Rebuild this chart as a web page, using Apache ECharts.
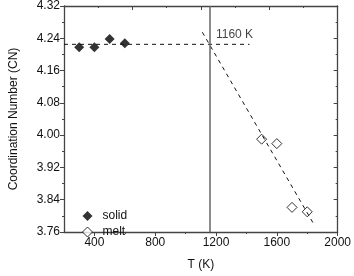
<!DOCTYPE html>
<html><head><meta charset="utf-8">
<script src="https://cdn.jsdelivr.net/npm/echarts@6/dist/echarts.min.js"></script>
<style>html,body{margin:0;padding:0;background:#fff}#c{width:354px;height:276px}</style>
</head><body><div id="c"></div>
<script>
const solidT = [300, 400, 500, 600];
const solidCN = [4.218, 4.218, 4.238, 4.228];
const meltT = [1500, 1600, 1700, 1800];
const meltCN = [3.990, 3.979, 3.821, 3.810];
const solidFitT = [200, 1420];
const solidFitCN = [4.225, 4.225];
const meltFitT = [1110, 1850];
const meltFitCN = [4.255, 3.775];
const transitionT = 1160;
const transitionLabel = '1160 K';
const transitionLabelCN = 4.249;
const xTickLabels = [400, 800, 1200, 1600, 2000];
const xMinorTicks = [600, 1000, 1400, 1800];
const yTickLabels = [3.76, 3.84, 3.92, 4.00, 4.08, 4.16, 4.24, 4.32];

const font = 'Liberation Sans, Arial, sans-serif';
const axisColor = '#444';
const chart = echarts.init(document.getElementById('c'));
const zip = (a, b) => a.map((v, i) => [v, b[i]]);

chart.setOption({
  animation: false,
  textStyle: { fontFamily: font },
  grid: { left: 56, right: 15, top: 6, bottom: 38 },
  legend: {
    data: [
      { name: 'solid', icon: 'diamond', itemStyle: { color: '#000', borderWidth: 0 } },
      { name: 'melt', icon: 'diamond', itemStyle: { color: '#fff', borderColor: '#000', borderWidth: 1 } }
    ],
    orient: 'vertical', left: 77, top: 205,
    itemWidth: 10, itemHeight: 10, itemGap: 4,
    textStyle: { fontSize: 12, color: '#111', fontFamily: font, padding: [0, 0, 0, 5] }
  },
  xAxis: [
    { type: 'value', position: 'bottom', min: 200, max: 2000, interval: 200,
      name: 'T (K)', nameLocation: 'middle', nameGap: 27,
      nameTextStyle: { fontSize: 12, color: '#111', fontFamily: font },
      axisLine: { lineStyle: { color: axisColor, width: 1.3 } },
      axisTick: { customValues: xTickLabels, length: 4, lineStyle: { color: axisColor } },
      axisLabel: { customValues: xTickLabels, fontSize: 12, color: '#111', margin: 5, fontFamily: font,
        formatter: v => String(v) },
      splitLine: { show: false } },
    { type: 'value', position: 'top', min: 0, max: 8, interval: 1,
      axisLine: { onZero: false, lineStyle: { color: axisColor, width: 1.3 } },
      axisTick: { inside: true, customValues: [2, 4, 6], length: 4, lineStyle: { color: axisColor } },
      axisLabel: { show: false }, splitLine: { show: false } },
    { type: 'value', position: 'top', min: 0, max: 8, interval: 1,
      axisLine: { show: false },
      axisTick: { inside: true, customValues: [1, 3, 5, 7], length: 2, lineStyle: { color: axisColor } },
      axisLabel: { show: false }, splitLine: { show: false } },
    { type: 'value', position: 'bottom', min: 200, max: 2000, interval: 200,
      axisLine: { show: false },
      axisTick: { customValues: xMinorTicks, length: 2, lineStyle: { color: axisColor } },
      axisLabel: { show: false }, splitLine: { show: false } }
  ],
  yAxis: [
    { type: 'value', position: 'left', min: 3.76, max: 4.32, interval: 0.08,
      name: 'Coordination Number (CN)', nameLocation: 'middle', nameGap: 44,
      nameTextStyle: { fontSize: 12, color: '#111', fontFamily: font },
      axisLine: { lineStyle: { color: axisColor, width: 1.3 } },
      axisTick: { length: 4, lineStyle: { color: axisColor } },
      minorTick: { show: true, splitNumber: 2, length: 2, lineStyle: { color: axisColor } },
      axisLabel: { fontSize: 12, color: '#111', margin: 4, fontFamily: font,
        formatter: v => v.toFixed(2) },
      splitLine: { show: false } },
    { type: 'value', position: 'right', min: 3.76, max: 4.32, interval: 0.08,
      axisLine: { onZero: false, lineStyle: { color: axisColor, width: 1.3 } },
      axisTick: { inside: true, length: 4, lineStyle: { color: axisColor } },
      minorTick: { show: true, splitNumber: 2, length: 2, lineStyle: { color: axisColor } },
      axisLabel: { show: false }, splitLine: { show: false } }
  ],
  series: [
    { type: 'line', data: zip(solidFitT, solidFitCN), symbol: 'none', silent: true,
      lineStyle: { color: '#111', width: 1, type: [4, 4] },
      markLine: { silent: true, symbol: 'none', label: { show: false },
        lineStyle: { color: '#666', width: 1.5, type: 'solid' },
        data: [{ xAxis: transitionT }] } },
    { type: 'line', data: zip(meltFitT, meltFitCN), symbol: 'none', silent: true,
      lineStyle: { color: '#111', width: 1, type: [4, 4] } },
    { name: 'solid', type: 'scatter', data: zip(solidT, solidCN), symbol: 'diamond', symbolSize: 10,
      itemStyle: { color: '#000' } },
    { name: 'melt', type: 'scatter', data: zip(meltT, meltCN), symbol: 'diamond', symbolSize: 10,
      itemStyle: { color: '#fff', borderColor: '#000', borderWidth: 1 } },
    { type: 'scatter', data: [[transitionT, transitionLabelCN]], symbol: 'circle', symbolSize: 2, silent: true,
      itemStyle: { color: 'rgba(0,0,0,0)' },
      label: { show: true, position: 'right', distance: 5, formatter: transitionLabel,
        fontSize: 12, color: '#111', fontFamily: font } }
  ]
});
</script></body></html>
